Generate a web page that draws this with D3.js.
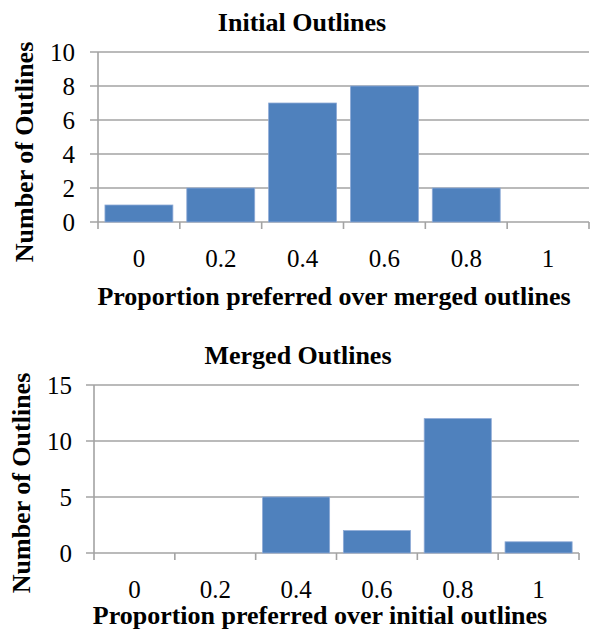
<!DOCTYPE html>
<html>
<head>
<meta charset="utf-8">
<script src="https://cdn.jsdelivr.net/npm/d3@7"></script>
<style>
  html, body { margin: 0; padding: 0; background: #fff; }
  svg { display: block; }
</style>
</head>
<body>
<svg id="chart" width="591" height="640"></svg>
<script>
// ---- data ----
const categories = ["0", "0.2", "0.4", "0.6", "0.8", "1"];
const initialCounts = [1, 2, 7, 8, 2, 0];
const mergedCounts = [0, 0, 5, 2, 12, 1];
const initialTicks = [0, 2, 4, 6, 8, 10];
const mergedTicks = [0, 5, 10, 15];
const titles = ["Initial Outlines", "Merged Outlines"];
const xLabels = ["Proportion preferred over merged outlines", "Proportion preferred over initial outlines"];
const yLabel = "Number of Outlines";

const FONT = "'Liberation Serif', 'Times New Roman', Times, 'DejaVu Serif', serif";
const svg = d3.select("#chart");
const barColor = "#4f81bd";
const gridColor = "#a3a3a3";

function drawChart(cfg) {
  const g = svg.append("g");
  const x = d3.scaleBand().domain(categories).range([cfg.left, cfg.right])
    .paddingInner(0.17).paddingOuter(0.085);
  const y = d3.scaleLinear().domain([0, cfg.max]).range([cfg.bottom, cfg.top]);
  const half = (x.step() - x.bandwidth()) / 2;

  // gridlines + y tick marks
  g.selectAll("line.grid").data(cfg.ticks).enter().append("line")
    .attr("x1", cfg.left - 8).attr("x2", cfg.right)
    .attr("y1", d => y(d)).attr("y2", d => y(d))
    .attr("stroke", gridColor).attr("stroke-width", 1.6);

  // y axis line
  g.append("line").attr("x1", cfg.left).attr("x2", cfg.left)
    .attr("y1", cfg.top).attr("y2", cfg.bottom + 7)
    .attr("stroke", gridColor).attr("stroke-width", 1.6);

  // x tick marks at category boundaries
  const bounds = categories.map(c => x(c) - half).concat([cfg.right]);
  g.selectAll("line.xt").data(bounds.slice(1)).enter().append("line")
    .attr("x1", d => d).attr("x2", d => d)
    .attr("y1", cfg.bottom).attr("y2", cfg.bottom + 7)
    .attr("stroke", gridColor).attr("stroke-width", 1.6);

  // bars
  g.selectAll("rect.bar").data(cfg.values).enter().append("rect")
    .attr("x", (d, i) => x(categories[i]))
    .attr("width", x.bandwidth())
    .attr("y", d => y(d))
    .attr("height", d => cfg.bottom - y(d))
    .attr("fill", barColor)
    .attr("stroke", "#8eaad6").attr("stroke-width", 0.8);

  // y tick labels
  g.selectAll("text.yt").data(cfg.ticks).enter().append("text")
    .attr("x", cfg.labelRight).attr("y", d => y(d))
    .attr("dy", "0.34em")
    .attr("text-anchor", "end")
    .attr("font-family", FONT)
    .attr("font-size", 25)
    .text(d => d);

  // x tick labels
  g.selectAll("text.xl").data(categories).enter().append("text")
    .attr("x", c => x(c) + x.bandwidth() / 2)
    .attr("y", cfg.bottom + 45)
    .attr("text-anchor", "middle")
    .attr("font-family", FONT)
    .attr("font-size", 25)
    .text(c => c);

  // title
  g.append("text").attr("x", cfg.titleX).attr("y", cfg.titleY)
    .attr("text-anchor", "middle")
    .attr("font-family", FONT)
    .attr("font-size", 26).attr("font-weight", "bold")
    .text(cfg.title);

  // x axis title
  g.append("text").attr("x", cfg.xlabX).attr("y", cfg.xlabY)
    .attr("text-anchor", "middle")
    .attr("font-family", FONT)
    .attr("font-size", 26).attr("font-weight", "bold")
    .text(cfg.xlabel);

  // y axis title
  g.append("text")
    .attr("transform", `translate(${cfg.ylabX},${cfg.ylabY}) rotate(-90)`)
    .attr("text-anchor", "middle")
    .attr("font-family", FONT)
    .attr("font-size", 26).attr("font-weight", "bold")
    .text(yLabel);
}

drawChart({
  values: initialCounts, ticks: initialTicks, max: 10,
  left: 98, right: 589, top: 52, bottom: 222, labelRight: 75,
  title: titles[0], titleX: 302, titleY: 31,
  xlabel: xLabels[0], xlabX: 334, xlabY: 305,
  ylabX: 33, ylabY: 152
});

drawChart({
  values: mergedCounts, ticks: mergedTicks, max: 15,
  left: 94, right: 579, top: 385, bottom: 553, labelRight: 72,
  title: titles[1], titleX: 298, titleY: 364,
  xlabel: xLabels[1], xlabX: 320, xlabY: 624,
  ylabX: 30, ylabY: 483
});
</script>
</body>
</html>
